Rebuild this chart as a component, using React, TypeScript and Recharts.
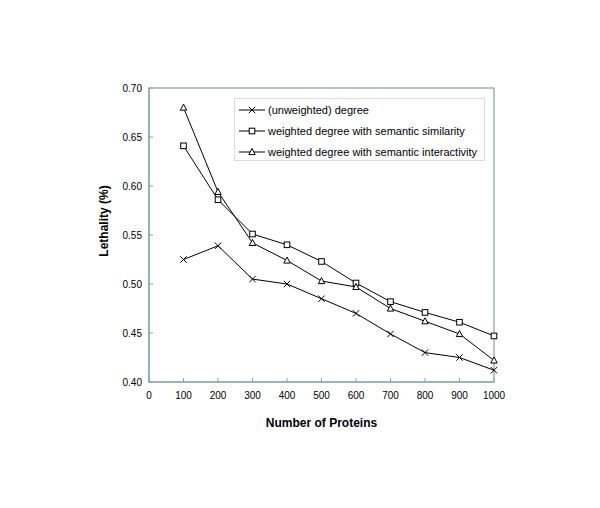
import React from 'react';
import * as Recharts from 'recharts';
import { LineChart, Line, XAxis, YAxis, Legend } from 'recharts';

const proteinCounts = [100, 200, 300, 400, 500, 600, 700, 800, 900, 1000];
const unweightedDegree = [0.525, 0.539, 0.505, 0.5, 0.485, 0.47, 0.449, 0.43, 0.425, 0.412];
const semanticSimilarity = [0.641, 0.586, 0.551, 0.54, 0.523, 0.501, 0.482, 0.471, 0.461, 0.447];
const semanticInteractivity = [0.68, 0.594, 0.542, 0.524, 0.503, 0.497, 0.475, 0.462, 0.449, 0.422];
const xTicks = [0, 100, 200, 300, 400, 500, 600, 700, 800, 900, 1000];
const yTicks = [0.4, 0.45, 0.5, 0.55, 0.6, 0.65, 0.7];
const seriesNames = [
  '(unweighted) degree',
  'weighted degree with semantic similarity',
  'weighted degree with semantic interactivity',
];

const data = proteinCounts.map((n, i) => ({
  n,
  unweighted: unweightedDegree[i],
  similarity: semanticSimilarity[i],
  interactivity: semanticInteractivity[i],
}));

const FONT = '"Liberation Sans", Arial, sans-serif';
const AXIS = '#7fa3a7';

const usePlotAreaSafe: () => any = (Recharts as any).usePlotArea || (() => undefined);

function PlotFrame() {
  const area = usePlotAreaSafe();
  if (!area || typeof area.x !== 'number') return null;
  return (
    <rect
      x={area.x}
      y={area.y}
      width={area.width}
      height={area.height}
      fill="none"
      stroke={AXIS}
      strokeWidth={1.2}
    />
  );
}

type Shape = 'cross' | 'square' | 'triangle';

function Marker({ cx, cy, shape }: { cx: number; cy: number; shape: Shape }) {
  if (shape === 'cross') {
    const s = 3.2;
    return (
      <g stroke="#000" strokeWidth={1}>
        <line x1={cx - s} y1={cy - s} x2={cx + s} y2={cy + s} />
        <line x1={cx - s} y1={cy + s} x2={cx + s} y2={cy - s} />
      </g>
    );
  }
  if (shape === 'square') {
    return <rect x={cx - 2.8} y={cy - 2.8} width={5.6} height={5.6} fill="#fff" stroke="#000" strokeWidth={1} />;
  }
  return (
    <polygon
      points={`${cx},${cy - 3.5} ${cx + 3.2},${cy + 2.6} ${cx - 3.2},${cy + 2.6}`}
      fill="#fff"
      stroke="#000"
      strokeWidth={1}
    />
  );
}

const makeDot = (shape: Shape) => (props: any) => (
  <Marker key={`${shape}-${props.index}`} cx={props.cx} cy={props.cy} shape={shape} />
);

const shapes: Shape[] = ['cross', 'square', 'triangle'];

function LegendBox() {
  return (
    <div
      style={{
        width: 251,
        height: 63,
        boxSizing: 'border-box',
        border: '1px solid #dcdcdc',
        background: '#fff',
        fontFamily: FONT,
        fontSize: 11,
        color: '#000',
        paddingTop: 1,
      }}
    >
      {seriesNames.map((name, i) => (
        <div key={name} style={{ display: 'flex', alignItems: 'center', height: 20.7, paddingLeft: 4 }}>
          <svg width={26} height={12} style={{ display: 'block', flex: 'none' }}>
            <line x1={0} y1={6} x2={26} y2={6} stroke="#000" strokeWidth={1} />
            <Marker cx={13} cy={6} shape={shapes[i]} />
          </svg>
          <span style={{ marginLeft: 3, whiteSpace: 'nowrap' }}>{name}</span>
        </div>
      ))}
    </div>
  );
}

export default function App() {
  return (
    <div style={{ position: 'absolute', left: 0, top: 0, width: 600, height: 508, background: '#fff' }}>
      <LineChart
        width={600}
        height={508}
        data={data}
        margin={{ top: 88, right: 106, bottom: 96, left: 100 }}
        style={{ fontFamily: FONT }}
      >
        <PlotFrame />
        <XAxis
          dataKey="n"
          type="number"
          domain={[0, 1000]}
          ticks={xTicks}
          interval={0}
          height={30}
          tickSize={-4}
          tickMargin={14}
          axisLine={{ stroke: AXIS, strokeWidth: 1.2 }}
          tickLine={{ stroke: AXIS }}
          tick={{ fill: '#000', fontSize: 10, fontFamily: FONT }}
          label={{
            content: (p: any) => {
              const vb = p.viewBox;
              return (
                <text
                  x={vb.x + vb.width / 2}
                  y={vb.y + 45}
                  textAnchor="middle"
                  fontWeight="bold"
                  fontSize={12}
                  fontFamily={FONT}
                  fill="#000"
                >
                  Number of Proteins
                </text>
              );
            },
          }}
        />
        <YAxis
          type="number"
          domain={[0.4, 0.7]}
          ticks={yTicks}
          interval={0}
          width={49}
          tickSize={-4}
          tickMargin={11}
          allowDataOverflow
          tickFormatter={(v: number) => v.toFixed(2)}
          axisLine={{ stroke: AXIS, strokeWidth: 1.2 }}
          tickLine={{ stroke: AXIS }}
          tick={{ fill: '#000', fontSize: 10, fontFamily: FONT }}
          label={{
            content: (p: any) => {
              const vb = p.viewBox;
              const cx = vb.x + 4;
              const cy = vb.y + vb.height / 2 - 14;
              return (
                <text
                  x={cx}
                  y={cy}
                  transform={`rotate(-90 ${cx} ${cy})`}
                  textAnchor="middle"
                  dominantBaseline="central"
                  fontWeight="bold"
                  fontSize={12}
                  fontFamily={FONT}
                  fill="#000"
                >
                  Lethality (%)
                </text>
              );
            },
          }}
        />
        <Legend
          layout="vertical"
          align="center"
          verticalAlign="middle"
          content={() => <LegendBox />}
          wrapperStyle={{ position: 'absolute', left: 234, top: 98, width: 251, height: 63 }}
        />
        <Line
          type="linear"
          dataKey="unweighted"
          name={seriesNames[0]}
          stroke="#000"
          strokeWidth={1}
          dot={makeDot('cross')}
          isAnimationActive={false}
        />
        <Line
          type="linear"
          dataKey="similarity"
          name={seriesNames[1]}
          stroke="#000"
          strokeWidth={1}
          dot={makeDot('square')}
          isAnimationActive={false}
        />
        <Line
          type="linear"
          dataKey="interactivity"
          name={seriesNames[2]}
          stroke="#000"
          strokeWidth={1}
          dot={makeDot('triangle')}
          isAnimationActive={false}
        />
      </LineChart>
    </div>
  );
}
